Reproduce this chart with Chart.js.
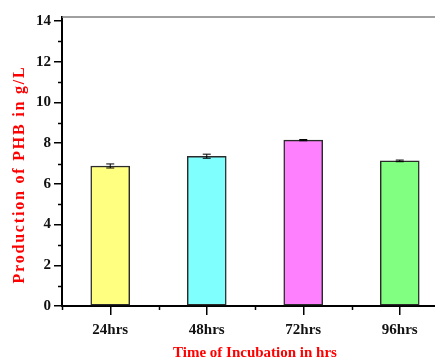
<!DOCTYPE html>
<html>
<head>
<meta charset="utf-8">
<script src="https://cdn.jsdelivr.net/npm/chart.js@4/dist/chart.umd.min.js"></script>
<style>
  html, body { margin: 0; padding: 0; background: #fff; overflow: hidden; }
  #wrap { width: 435px; height: 363px; overflow: hidden; }
  canvas { display: block; }
</style>
</head>
<body>
<div id="wrap"><canvas id="c" width="448" height="363"></canvas></div>
<script>
// Incubation times and PHB yield (g/L) with standard error
const categories = ['24hrs', '48hrs', '72hrs', '96hrs'];
const production = [6.88, 7.36, 8.15, 7.13];
const errors = [0.10, 0.10, 0.03, 0.04];
const barColors = ['#FFFF80', '#80FFFF', '#FF80FF', '#80FF80'];
const yTicks = [0, 2, 4, 6, 8, 10, 12, 14];
const yTitle = 'Production of PHB in g/L';
const xTitle = 'Time of Incubation in hrs';

const SERIF = '"Liberation Serif", "Times New Roman", serif';

// Minor tick marks, top frame line, error bars and the spaced-out y title
const decorations = {
  id: 'decorations',
  afterDraw(chart) {
    const ctx = chart.ctx;
    const x = chart.scales.x, y = chart.scales.y;
    const area = chart.chartArea;
    ctx.save();
    // top frame
    ctx.strokeStyle = '#808080';
    ctx.lineWidth = 1.5;
    ctx.beginPath();
    ctx.moveTo(area.left, area.top);
    ctx.lineTo(area.right, area.top);
    ctx.stroke();

    ctx.strokeStyle = '#000';
    ctx.lineWidth = 1.5;
    // y minor ticks
    for (let v = 1; v < 14; v += 2) {
      const py = Math.round(y.getPixelForValue(v)) + 0.5;
      ctx.beginPath();
      ctx.moveTo(area.left - 4, py);
      ctx.lineTo(area.left, py);
      ctx.stroke();
    }
    // x minor ticks between categories
    for (let i = 0; i <= categories.length; i++) {
      const px = Math.round(x.getPixelForValue(i - 0.5)) + 0.5;
      ctx.beginPath();
      ctx.moveTo(px, area.bottom);
      ctx.lineTo(px, area.bottom + 4);
      ctx.stroke();
    }
    // error bars
    ctx.lineWidth = 1;
    production.forEach((v, i) => {
      const px = x.getPixelForValue(i);
      const top = y.getPixelForValue(v + errors[i]);
      const bot = y.getPixelForValue(v - errors[i]);
      ctx.beginPath();
      ctx.moveTo(px, top); ctx.lineTo(px, bot);
      ctx.moveTo(px - 4, top); ctx.lineTo(px + 4, top);
      ctx.moveTo(px - 4, bot); ctx.lineTo(px + 4, bot);
      ctx.stroke();
    });

    // y axis title with letter spacing
    ctx.translate(20, (area.top + area.bottom) / 2 + 13);
    ctx.rotate(-Math.PI / 2);
    ctx.font = 'bold 16px ' + SERIF;
    ctx.letterSpacing = '1.8px';
    ctx.fillStyle = '#FF0000';
    ctx.textAlign = 'center';
    ctx.textBaseline = 'middle';
    ctx.fillText(yTitle, 0, 0);
    ctx.restore();
  }
};

new Chart(document.getElementById('c'), {
  type: 'bar',
  data: {
    labels: categories,
    datasets: [{
      data: production,
      backgroundColor: barColors,
      borderColor: '#2a2a2a',
      borderWidth: 1.5,
      borderSkipped: false,
      barThickness: 39
    }]
  },
  options: {
    responsive: false,
    animation: false,
    layout: { padding: { top: 17, right: 0, left: 0, bottom: 0 } },
    plugins: { legend: { display: false }, tooltip: { enabled: false } },
    scales: {
      x: {
        grid: { display: true, drawOnChartArea: false, offset: false, tickLength: 9, color: '#000', lineWidth: 1.5 },
        border: { display: true, color: '#000', width: 2 },
        ticks: { color: '#111', font: { family: SERIF, size: 15, weight: 'bold' }, padding: 6 },
        title: {
          display: true,
          text: xTitle,
          color: '#FF0000',
          font: { family: SERIF, size: 15, weight: 'bold' },
          padding: { top: 0, bottom: 1 }
        },
        afterFit(scale) { scale.height = 57; }
      },
      y: {
        min: 0,
        max: 14.2,
        grid: { display: true, drawOnChartArea: false, tickLength: 8, color: '#000', lineWidth: 1.5 },
        border: { display: true, color: '#000', width: 2 },
        ticks: { stepSize: 2, color: '#111', font: { family: SERIF, size: 15, weight: 'bold' }, padding: 3 },
        afterBuildTicks(scale) { scale.ticks = yTicks.map(v => ({ value: v })); },
        title: { display: false },
        afterFit(scale) { scale.width = 62; }
      }
    }
  },
  plugins: [decorations]
});
</script>
</body>
</html>
